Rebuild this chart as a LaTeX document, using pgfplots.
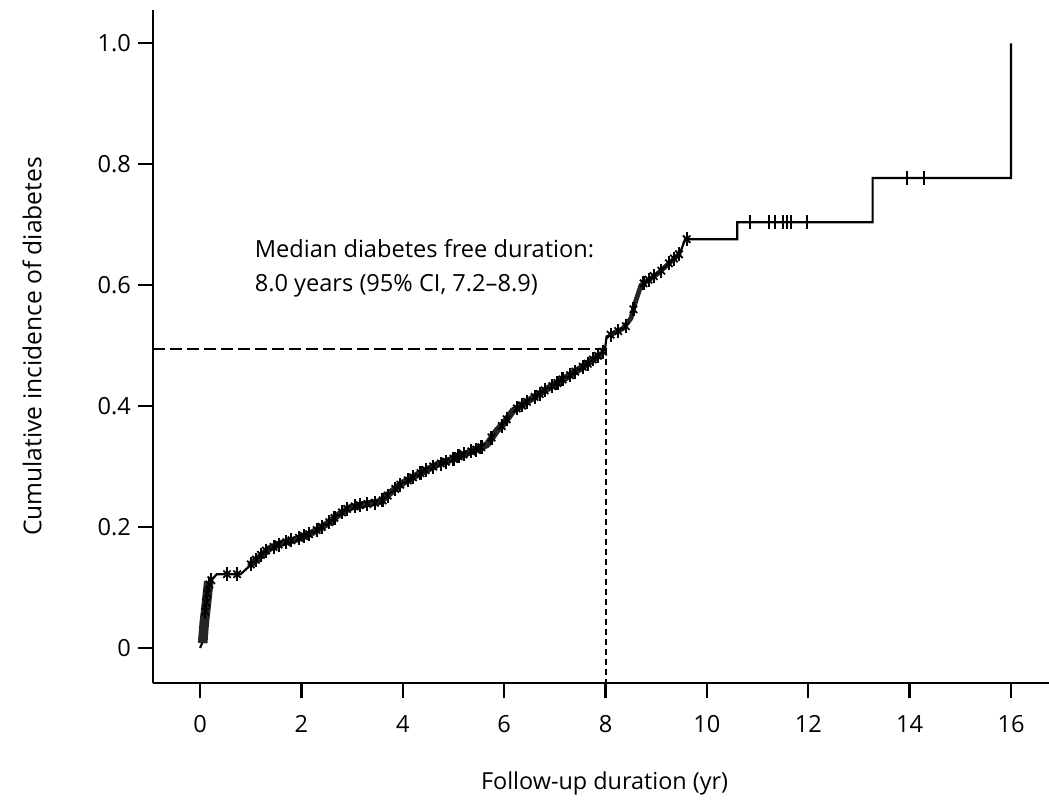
\documentclass[border=0pt]{standalone}
\usepackage{pgfplots}
\pgfplotsset{compat=1.18}
\usepackage{fontspec}
\setmainfont{Open Sans}

\newcommand{\censored}{
(0.10,0.060) (0.12,0.075) (0.14,0.090) (0.18,0.105) (0.22,0.112)
(0.53,0.122) (0.73,0.122)
(1.00,0.138) (1.10,0.146) (1.20,0.154) (1.30,0.161) (1.45,0.167)
(1.55,0.171) (1.70,0.175) (1.80,0.178) (1.95,0.182) (2.05,0.185)
(2.15,0.188) (2.30,0.195) (2.40,0.200) (2.55,0.208) (2.65,0.215)
(2.80,0.224) (2.90,0.230) (3.05,0.234) (3.15,0.236) (3.30,0.238)
(3.45,0.240) (3.60,0.244) (3.70,0.252) (3.85,0.263) (3.95,0.270)
(4.10,0.277) (4.20,0.282) (4.35,0.289) (4.45,0.294) (4.60,0.300)
(4.75,0.305) (4.85,0.308) (5.00,0.313) (5.10,0.317) (5.20,0.320)
(5.35,0.325) (5.45,0.328) (5.55,0.332) (5.75,0.348) (5.95,0.367)
(6.05,0.378) (6.25,0.396) (6.35,0.401) (6.45,0.407) (6.60,0.415)
(6.70,0.420) (6.80,0.426) (6.95,0.433) (7.05,0.438) (7.15,0.444)
(7.30,0.451) (7.40,0.457) (7.55,0.465) (7.65,0.470) (7.75,0.477)
(7.85,0.483) (7.95,0.490) (8.10,0.518) (8.25,0.524) (8.40,0.532)
(8.55,0.560) (8.75,0.603) (8.85,0.609) (8.95,0.615) (9.10,0.624)
(9.25,0.636) (9.35,0.644) (9.45,0.651) (9.60,0.676)
}
\newcommand{\censoredtail}{
(10.85,0.704) (11.22,0.704) (11.34,0.704) (11.50,0.704) (11.58,0.704)
(11.65,0.704) (11.97,0.704) (13.95,0.777) (14.28,0.777)
}

\begin{document}
\begin{tikzpicture}
\begin{axis}[
  scale only axis,
  width=448pt, height=336.5pt,
  xmin=-0.93, xmax=16.75,
  ymin=-0.058, ymax=1.055,
  axis x line*=bottom, axis y line*=left,
  axis line style={line width=1.4pt},
  tick align=outside,
  major tick length=7.5pt,
  tick style={line width=1.2pt, black},
  xtick={0,2,4,6,8,10,12,14,16},
  ytick={0,0.2,0.4,0.6,0.8,1.0},
  yticklabels={0,0.2,0.4,0.6,0.8,1.0},
  /pgf/number format/assume math mode=true,
  tick label style={font=\fontsize{11.8}{13}\selectfont},
  xticklabel style={yshift=-5pt},
  xlabel={Follow-up duration (yr)},
  ylabel={Cumulative incidence of diabetes},
  every axis x label/.style={at={(axis description cs:0.504,-0.149)},anchor=center,font=\fontsize{11.7}{13}\selectfont},
  every axis y label/.style={at={(axis description cs:-0.135,0.5)},rotate=90,anchor=center,font=\fontsize{12.3}{13}\selectfont},
  clip=false,
]
% median lines
\addplot[black, line width=1pt, dash pattern=on 6pt off 2.5pt]
  coordinates {(-0.93,0.495) (8.0,0.495)};
\addplot[black, line width=1pt, dash pattern=on 3pt off 2pt]
  coordinates {(8.0,0.495) (8.0,-0.058)};
% cumulative incidence curve
\addplot[black, line width=1.1pt] coordinates {
(0.00,0.000) (0.05,0.010) (0.08,0.040) (0.12,0.070) (0.15,0.100)
(0.25,0.115) (0.33,0.122) (0.80,0.122) (0.93,0.132) (1.15,0.150)
(1.38,0.165) (1.60,0.173) (1.91,0.180) (2.20,0.190) (2.50,0.205)
(2.76,0.222) (2.96,0.232) (3.20,0.237) (3.55,0.242) (3.80,0.260)
(4.00,0.273) (4.30,0.287) (4.67,0.303) (5.00,0.313) (5.27,0.322)
(5.66,0.336) (5.86,0.360) (6.00,0.372) (6.17,0.392) (6.50,0.410)
(6.84,0.428) (7.20,0.446) (7.50,0.462) (7.89,0.485) (7.99,0.495)
(8.02,0.515) (8.15,0.520) (8.34,0.528) (8.50,0.545) (8.60,0.575)
(8.70,0.600) (9.00,0.617) (9.20,0.632) (9.47,0.653) (9.57,0.676)
(10.60,0.676) (10.60,0.704) (13.27,0.704) (13.27,0.777)
(16.00,0.777) (16.00,1.000)
};
% heavy band where events and censorings are dense
\addplot[black!85, line width=3.4pt, line join=round, line cap=round] coordinates {
(1.00,0.138) (1.38,0.165) (1.60,0.173) (1.91,0.180) (2.20,0.190)
(2.50,0.205) (2.76,0.222) (2.96,0.232) (3.20,0.237) (3.55,0.242)
(3.80,0.260) (4.00,0.273) (4.30,0.287) (4.67,0.303) (5.00,0.313)
(5.27,0.322) (5.66,0.336) (5.86,0.360) (6.00,0.372) (6.17,0.392)
(6.50,0.410) (6.84,0.428) (7.20,0.446) (7.50,0.462) (7.89,0.485)
};
\addplot[black!85, line width=2.4pt, line join=round, line cap=round] coordinates {
(8.10,0.518) (8.34,0.528) (8.50,0.545) (8.60,0.575) (8.70,0.600)
(9.00,0.617) (9.20,0.632) (9.45,0.651)
};
% thick early rise
\addplot[black!85, line width=4.8pt] coordinates {(0.05,0.008) (0.08,0.04) (0.12,0.07) (0.17,0.11)};
% censoring marks
\addplot[black, only marks, mark=|, mark size=3.5pt, mark options={line width=1.1pt}]
  coordinates {\censored};
\addplot[black, only marks, mark=x, mark size=2.6pt, mark options={line width=0.9pt}]
  coordinates {\censored};
\addplot[black, only marks, mark=|, mark size=3.5pt, mark options={line width=1pt}]
  coordinates {\censoredtail};
\node[anchor=west, align=left, font=\fontsize{11.8}{17}\selectfont]
  at (axis cs:0.94,0.628) {Median diabetes free duration:\\8.0 years (95\% CI, 7.2--8.9)};
\end{axis}
\pgfresetboundingbox
\path[use as bounding box] (-76.5pt,-60pt) rectangle (448pt,341.5pt);
\end{tikzpicture}
\end{document}
